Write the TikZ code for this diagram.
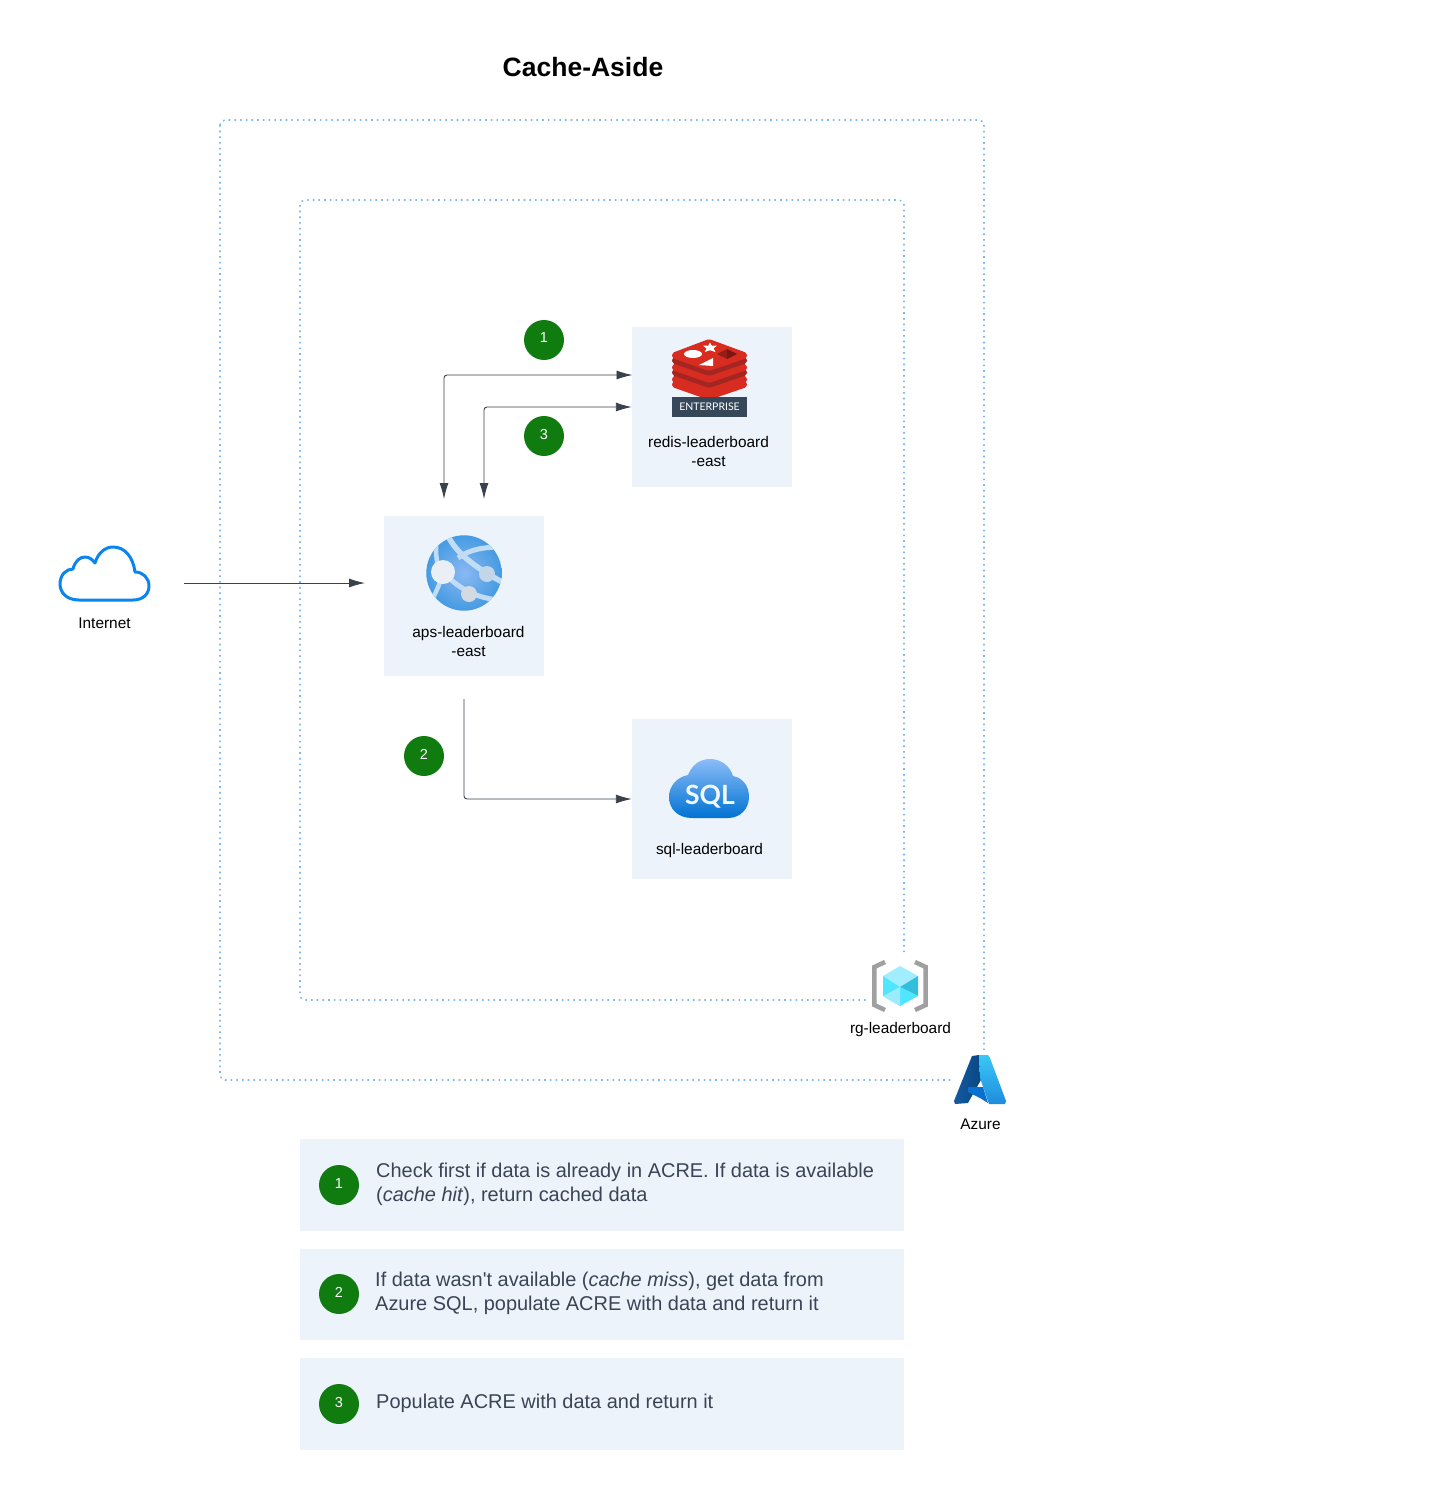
\documentclass[tikz,border=0pt]{standalone}
\usepackage{fontspec}
\setmainfont{Liberation Sans}
\newfontfamily\plainfont{Liberation Sans}
\newfontfamily\badgefont{Lato}
\usetikzlibrary{arrows.meta}
\definecolor{boxfill}{HTML}{ECF3FB}
\definecolor{frameblue}{HTML}{7DB9EC}
\definecolor{arrowgrey}{HTML}{3A414A}
\definecolor{badgegreen}{HTML}{107C10}
\definecolor{legendtext}{HTML}{3A4454}
\definecolor{redisred}{HTML}{D82C20}
\definecolor{redisdark}{HTML}{A42622}
\definecolor{streak}{HTML}{C0DDF5}
\definecolor{bracketgrey}{HTML}{A0A0A0}
\tikzset{
	resbox/.style={fill=boxfill, minimum width=160pt, minimum height=160pt, inner sep=0pt},
	legendbox/.style={fill=boxfill, minimum width=604pt, inner sep=0pt},
	badge/.style={circle, fill=badgegreen, minimum size=40pt, inner sep=0pt},
	badgelabel/.style={text=white, font=\fontsize{14.5}{17}\selectfont},
	reslabel/.style={align=center, inner sep=0pt, font=\fontsize{15.4}{19}\selectfont},
	legendlabel/.style={anchor=west, align=left, inner sep=0pt, text=legendtext, font=\fontsize{19.95}{24}\plainfont},
	frame/.style={draw=frameblue, line width=1.6pt, dash pattern=on 1.6pt off 4.1pt, rounded corners=5pt},
	flow/.style={draw=arrowgrey, line width=0.9pt, rounded corners=3pt, -{Latex[length=16pt,width=9pt]}},
	bothflow/.style={flow, {Latex[length=16pt,width=9pt]}-{Latex[length=16pt,width=9pt]}}
}
\begin{document}
\begin{tikzpicture}[x=1pt, y=-1pt]
	\useasboundingbox (0,0) rectangle (1441,1490);

	\node[font=\fontsize{26.5}{30}\selectfont\bfseries] (title) at (583,67) {Cache-Aside};

	% Draw the two dotted frames
	\draw[frame] (220,120) rectangle (984,1080);
	\draw[frame] (300,200) rectangle (904,1000);

	% Draw the resource boxes
	\node[resbox] (redis) at (712,407) {};
	\node[resbox] (app) at (464,596) {};
	\node[resbox] (sql) at (712,799) {};

	% Free ends of the connectors
	\coordinate (netOut) at (184,583);
	\coordinate (appWest) at (365,583);
	\coordinate (appTopA) at (444,499);
	\coordinate (appTopB) at (484,499);
	\coordinate (appBottom) at (464,699);
	\coordinate (redisUpper) at (632.5,375);

	\draw[flow] (netOut) -- (appWest);
	\draw[bothflow] (appTopA) |- (redisUpper);
	\draw[bothflow] (appTopB) |- (redis.west);
	\draw[flow] (appBottom) |- (sql.west);

	% Step badges on the diagram
	\node[badge] (stepOne) at (544,340) {};
	\node[badgelabel] (stepOneText) at (544,338) {1};
	\node[badge] (stepThree) at (544,436) {};
	\node[badgelabel] (stepThreeText) at (544,434.5) {3};
	\node[badge] (stepTwo) at (424,756) {};
	\node[badgelabel] (stepTwoText) at (424,754) {2};

	% Internet cloud
	\draw[color={rgb,255:red,10;green,132;blue,238}, line width=3pt, line join=round]
		(79,600) .. controls (66,600) and (60,592) .. (60,584)
		.. controls (60,575) and (66,569) .. (73,569)
		.. controls (75,561) and (80,557) .. (85,557)
		.. controls (89,557) and (92,559) .. (95,563)
		.. controls (98,553) and (105,547) .. (113,547)
		.. controls (125,547) and (133,557) .. (135,572)
		.. controls (143,572) and (149,578) .. (149,586)
		.. controls (149,594) and (143,600) .. (133,600) -- cycle;
	\node[reslabel] (netLabel) at (104.5,623) {Internet};

	% Web app globe
	\begin{scope}
		\clip (464,573) circle (37.7pt);
		\shade[inner color={rgb,255:red,138;green,184;blue,242}, outer color={rgb,255:red,70;green,155;blue,226}] (464,573) circle (37.7pt);
		\draw[streak, line width=5.5pt]
			(448,536) .. controls (456,552) and (472,566) .. (504,583);
		\draw[streak, line width=5pt]
			(458,558) .. controls (470,549) and (484,547) .. (504,547);
		\draw[streak, line width=5pt]
			(443,572) .. controls (455,585) and (475,600) .. (504,600);
		\draw[streak, line width=4.5pt]
			(443,572) .. controls (440,584) and (436,592) .. (432,600);
		\draw[streak, line width=4.5pt]
			(436,545) .. controls (436,552) and (436,558) .. (438,566);
	\end{scope}
	\fill[color={rgb,255:red,234;green,239;blue,245}] (443,572) circle (12pt);
	\fill[color={rgb,255:red,193;green,214;blue,232}] (487,574) circle (8pt);
	\fill[color={rgb,255:red,211;green,218;blue,226}] (469,594) circle (8pt);
	\node[reslabel] (appLabel) at (468.5,641.5) {aps-leaderboard\\-east};

	% Redis stack
	\foreach \dy/\under in {24/redisred, 12/redisdark, 0/redisdark} {
		\fill[\under, rounded corners=2pt] (709,344+\dy) -- (747,358+\dy) -- (747,363+\dy) -- (709,376+\dy) -- (672,363+\dy) -- (672,358+\dy) -- cycle;
		\fill[redisred, rounded corners=2pt] (709,339+\dy) -- (747,353+\dy) -- (747,358+\dy) -- (709,371+\dy) -- (672,358+\dy) -- (672,353+\dy) -- cycle;
	}
	\fill[white] (693,354) ellipse (9pt and 4pt);
	\fill[white] (710,342.5) -- (711.8,345.8) -- (717,345.5) -- (713.5,348.5) -- (715.5,352) -- (710,350.2) -- (704.8,352) -- (706.5,348.5) -- (703,345.5) -- (708.2,345.8) -- cycle;
	\fill[white] (699,365) -- (713,358) -- (713,366) -- cycle;
	\fill[color={rgb,255:red,150;green,30;blue,25}] (717,354) -- (727,349) -- (727,359) -- cycle;
	\fill[color={rgb,255:red,122;green,22;blue,18}] (727,349) -- (737,354) -- (727,359) -- cycle;
	\node[fill={rgb,255:red,55;green,71;blue,90}, text=white, minimum width=75pt, minimum height=20pt, inner sep=0pt, font=\fontsize{10.5}{12}\badgefont] (redisBadge) at (709.5,406.5) {ENTERPRISE};
	\node[reslabel] (redisLabel) at (708.5,451.5) {redis-leaderboard\\-east};

	% SQL cloud
	\shade[top color={rgb,255:red,139;green,188;blue,248}, bottom color={rgb,255:red,0;green,114;blue,210}]
		(692,818) .. controls (678,818) and (669,809) .. (669,797)
		.. controls (669,786) and (677,777) .. (688,775)
		.. controls (692,765) and (700,759) .. (710,759)
		.. controls (721,759) and (730,766) .. (733,776)
		.. controls (743,778) and (749,786) .. (749,797)
		.. controls (749,809) and (740,818) .. (728,818) -- cycle;
	\node[text={rgb,255:red,240;green,247;blue,253}, font=\fontsize{26.5}{30}\bfseries\badgefont] (sqlMark) at (710,797) {SQL};
	\node[reslabel] (sqlLabel) at (709.5,851) {sql-leaderboard};

	% Resource group icon
	\fill[white] (866,956) rectangle (934,1040);
	\draw[bracketgrey, line width=4.5pt] (885,962) -- (874.3,967) -- (874.3,1005) -- (885,1010);
	\draw[bracketgrey, line width=4.5pt] (915,962) -- (925.7,967) -- (925.7,1005) -- (915,1010);
	\fill[color={rgb,255:red,160;green,238;blue,255}] (900,966) -- (918,976) -- (900,987) -- (883,976) -- cycle;
	\fill[color={rgb,255:red,80;green,230;blue,255}] (883,976) -- (900,987) -- (900,1006) -- (883,996) -- cycle;
	\fill[color={rgb,255:red,50;green,190;blue,221}] (918,976) -- (900,987) -- (918,996) -- cycle;
	\fill[color={rgb,255:red,80;green,230;blue,255}] (918,996) -- (900,987) -- (900,1006) -- cycle;
	\fill[color={rgb,255:red,156;green,235;blue,255}] (883,996) -- (900,987) -- (900,1006) -- cycle;
	\node[reslabel] (rgLabel) at (900.5,1030) {rg-leaderboard};

	% Azure icon
	\fill[white] (951,1050) rectangle (1012,1108);
	\shade[left color={rgb,255:red,20;green,90;blue,160}, right color={rgb,255:red,10;green,70;blue,130}] (972,1056) -- (979,1055) -- (982,1078) -- (968,1103) -- (955,1104) -- (954,1101) -- cycle;
	\shade[top color={rgb,255:red,58;green,200;blue,246}, bottom color={rgb,255:red,30;green,140;blue,222}] (979,1055) -- (988,1055) -- (990,1058) -- (1006,1101) -- (1005,1104) -- (989,1104) -- (980,1078) -- cycle;
	\fill[color={rgb,255:red,10;green,112;blue,208}] (968,1087) -- (983,1087) -- (988,1103) -- (980,1098) -- (968,1092) -- cycle;
	\node[reslabel] (azureLabel) at (980.5,1124.5) {Azure};

	% Legend
	\node[legendbox, minimum height=92pt] (legendOne) at (602,1185) {};
	\node[legendbox, minimum height=91pt] (legendTwo) at (602,1294.5) {};
	\node[legendbox, minimum height=92pt] (legendThree) at (602,1404) {};

	\node[badge] (keyOne) at (339,1185) {};
	\node[badgelabel] (keyOneText) at (339,1183) {1};
	\node[badge] (keyTwo) at (339,1294) {};
	\node[badgelabel] (keyTwoText) at (339,1292) {2};
	\node[badge] (keyThree) at (339,1404) {};
	\node[badgelabel] (keyThreeText) at (339,1402) {3};

	\node[legendlabel] (textOne) at (376,1184) {Check first if data is already in ACRE. If data is available\\(\textit{cache hit}), return cached data};
	\node[legendlabel] (textTwo) at (375,1293) {If data wasn't available (\textit{cache miss}), get data from\\Azure SQL, populate ACRE with data and return it};
	\node[legendlabel] (textThree) at (376,1403) {Populate ACRE with data and return it};
\end{tikzpicture}
\end{document}
